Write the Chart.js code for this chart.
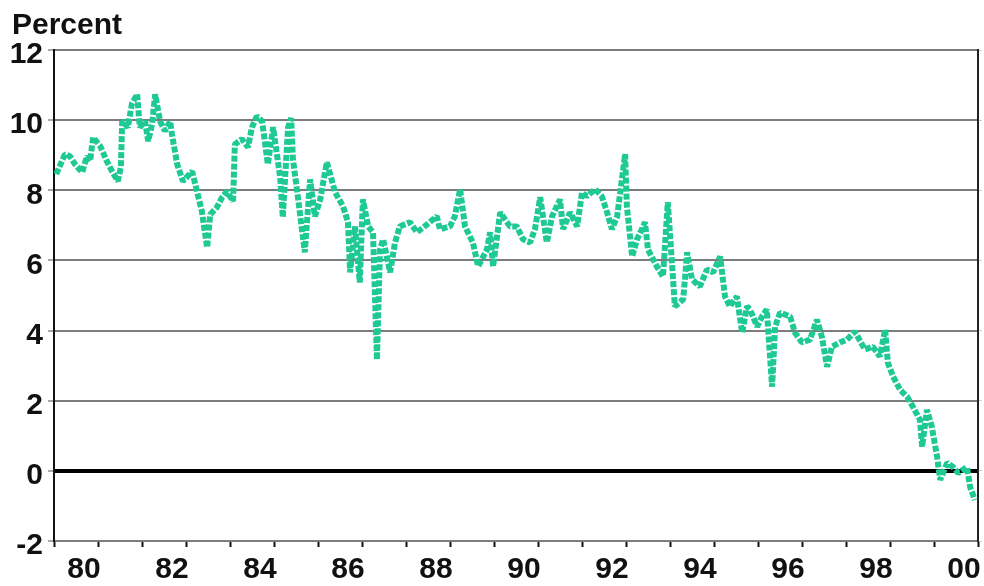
<!DOCTYPE html>
<html>
<head>
<meta charset="utf-8">
<script src="https://cdn.jsdelivr.net/npm/chart.js@4.4.1/dist/chart.umd.min.js"></script>
<style>
  html, body { margin: 0; padding: 0; background: #ffffff; }
  #wrap { width: 984px; height: 586px; }
</style>
</head>
<body>
<div id="wrap"><canvas id="c" width="984" height="586"></canvas></div>
<script>
// ---- data (decimal year, percent) ----
const years = [
  1979.35,1979.55,1979.66,1979.78,1979.94,1980.05,1980.12,1980.19,1980.35,1980.50,
  1980.62,1980.75,1980.82,1980.85,1980.98,1981.07,1981.19,1981.25,1981.37,1981.44,
  1981.53,1981.60,1981.71,1981.82,1981.94,1981.98,1982.10,1982.23,1982.44,1982.55,
  1982.66,1982.78,1982.85,1983.00,1983.12,1983.23,1983.37,1983.41,1983.57,1983.71,
  1983.80,1983.91,1984.03,1984.16,1984.28,1984.44,1984.50,1984.62,1984.69,1984.73,
  1984.85,1985.00,1985.12,1985.23,1985.35,1985.50,1985.69,1985.87,1985.98,1986.03,
  1986.14,1986.25,1986.32,1986.44,1986.55,1986.64,1986.71,1986.78,1986.94,1987.05,
  1987.16,1987.39,1987.55,1987.78,1988.00,1988.07,1988.30,1988.41,1988.53,1988.64,
  1988.82,1988.94,1989.14,1989.21,1989.28,1989.44,1989.66,1989.82,1989.96,1990.12,
  1990.23,1990.35,1990.50,1990.62,1990.80,1990.87,1991.03,1991.19,1991.30,1991.41,
  1991.60,1991.75,1991.87,1991.98,1992.10,1992.28,1992.32,1992.44,1992.55,1992.66,
  1992.73,1992.80,1993.00,1993.14,1993.25,1993.35,1993.41,1993.60,1993.69,1993.80,
  1993.98,1994.14,1994.28,1994.44,1994.55,1994.66,1994.82,1994.94,1995.05,1995.12,
  1995.28,1995.39,1995.50,1995.62,1995.69,1995.80,1996.03,1996.14,1996.30,1996.48,
  1996.64,1996.75,1996.87,1996.98,1997.16,1997.32,1997.50,1997.73,1997.91,1998.07,
  1998.19,1998.25,1998.37,1998.53,1998.69,1998.82,1998.98,1999.03,1999.14,1999.25,
  1999.37,1999.44,1999.60,1999.73,1999.85,2000.05,2000.12,2000.23
];
const rates = [
  8.46,9.03,8.97,8.74,8.51,8.97,8.83,9.51,9.26,8.83,
  8.54,8.26,8.66,9.97,9.80,10.46,10.74,9.80,9.97,9.40,
  9.89,10.74,9.97,9.69,9.97,9.60,8.74,8.26,8.54,7.97,
  7.40,6.37,7.31,7.51,7.80,7.97,7.69,9.31,9.46,9.23,
  9.80,10.11,9.97,8.74,9.80,8.37,7.23,9.80,10.06,8.89,
  7.74,6.23,8.31,7.26,7.74,8.80,7.94,7.54,7.09,5.66,
  6.97,5.37,7.74,6.97,6.80,3.17,6.31,6.60,5.66,6.51,
  6.97,7.09,6.80,7.03,7.26,6.89,6.97,7.26,8.03,6.97,
  6.51,5.83,6.31,6.80,5.83,7.37,6.97,6.97,6.60,6.51,
  6.89,7.80,6.51,7.26,7.74,6.89,7.37,6.97,7.94,7.83,
  8.03,7.83,7.37,6.89,7.26,9.03,7.54,6.11,6.60,6.89,
  7.09,6.31,5.83,5.54,7.66,5.83,4.69,4.89,6.23,5.46,
  5.26,5.74,5.66,6.11,4.97,4.69,4.97,3.94,4.69,4.60,
  4.11,4.40,4.60,2.40,4.11,4.51,4.40,3.94,3.66,3.74,
  4.31,3.83,2.97,3.54,3.66,3.74,3.97,3.46,3.54,3.26,
  4.03,3.09,2.69,2.31,2.11,1.83,1.46,0.69,1.74,1.26,
  0.40,-0.26,0.23,0.11,-0.06,0.11,-0.46,-0.83
];
const xTickLabels = ['80','82','84','86','88','90','92','94','96','98','00'];
const yTickValues = [-2,0,2,4,6,8,10,12];
const titleText = 'Percent';

const X_START = 1979.3, X_END = 2000.3;
const FONT = '"Liberation Sans", Arial, sans-serif';

const points = years.map((yr, i) => ({ x: yr, y: rates[i] }));

const titlePlugin = {
  id: 'percentTitle',
  afterDraw(chart) {
    const ctx = chart.ctx;
    ctx.save();
    ctx.font = 'bold 30px ' + FONT;
    ctx.fillStyle = '#111';
    ctx.textBaseline = 'alphabetic';
    ctx.textAlign = 'left';
    ctx.fillText(titleText, 12, 34);
    ctx.restore();
  }
};

new Chart(document.getElementById('c'), {
  type: 'line',
  data: {
    datasets: [{
      data: points,
      borderColor: '#1fc993',
      borderWidth: 6,
      borderDash: [6, 2],
      borderJoinStyle: 'bevel',
      pointRadius: 0,
      tension: 0,
      fill: false
    }]
  },
  options: {
    responsive: false,
    animation: false,
    devicePixelRatio: 1,
    layout: { padding: { top: 50, right: 2, left: 0, bottom: 0 } },
    plugins: { legend: { display: false }, tooltip: { enabled: false } },
    scales: {
      x: {
        type: 'linear',
        min: X_START,
        max: X_END,
        afterBuildTicks(axis) {
          axis.ticks = Array.from({ length: 22 }, (_, k) => ({ value: X_START + k }));
        },
        afterFit(scale) { scale.height = 45; },
        grid: {
          drawOnChartArea: false,
          drawTicks: true,
          tickLength: 6,
          tickWidth: 2,
          tickColor: '#111'
        },
        border: { display: false },
        ticks: {
          autoSkip: false,
          maxRotation: 0,
          padding: 5,
          labelOffset: 30,
          color: '#111',
          font: { family: FONT, size: 30, weight: 'bold' },
          callback: (v, i) => (i % 2 === 0 && i / 2 < xTickLabels.length) ? xTickLabels[i / 2] : ''
        }
      },
      y: {
        position: 'left',
        min: -2,
        max: 12,
        afterBuildTicks(axis) {
          axis.ticks = yTickValues.map(v => ({ value: v }));
        },
        afterFit(scale) { scale.width = 54; },
        grid: {
          color: ctx => (ctx.tick && ctx.tick.value === 0) ? '#000000' : '#7c7c7c',
          lineWidth: ctx => (ctx.tick && ctx.tick.value === 0) ? 4 : 2,
          drawTicks: true,
          tickLength: 6,
          tickColor: '#aaaaaa',
          tickWidth: 2
        },
        border: { display: true, color: '#111', width: 2 },
        ticks: {
          padding: 5,
          labelOffset: 5,
          color: '#111',
          font: { family: FONT, size: 30, weight: 'bold' },
          callback: v => String(v)
        }
      },
      y2: {
        position: 'right',
        min: -2,
        max: 12,
        afterBuildTicks(axis) {
          axis.ticks = yTickValues.map(v => ({ value: v }));
        },
        afterFit(scale) { scale.width = 4; },
        grid: {
          drawOnChartArea: false,
          drawTicks: true,
          tickLength: 4,
          tickColor: '#d0d0d0'
        },
        border: { display: true, color: '#222', width: 2 },
        ticks: { display: false }
      }
    }
  },
  plugins: [titlePlugin]
});
</script>
</body>
</html>
